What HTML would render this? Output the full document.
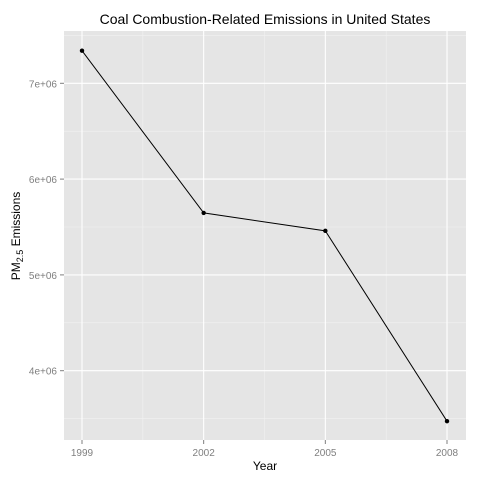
<!DOCTYPE html>
<html><head><meta charset="utf-8"><style>
body{margin:0;background:#fff}
text{font-family:"Liberation Sans",sans-serif}
</style></head><body>
<svg id="chart" width="480" height="480" xmlns="http://www.w3.org/2000/svg">
<rect x="0" y="0" width="480" height="480" fill="#fff"/>
<rect x="64" y="31" width="402" height="409" fill="#e5e5e5"/>
<g id="grid"></g><g id="axes"></g><g id="series"></g>
<text x="265" y="24" font-size="14" text-anchor="middle" fill="#000">Coal Combustion-Related Emissions in United States</text>
<text x="265" y="470" font-size="12" text-anchor="middle" fill="#000">Year</text>
<text transform="translate(20,236) rotate(-90)" font-size="12" text-anchor="middle" fill="#000">PM<tspan font-size="9" dy="3">2.5</tspan><tspan dy="-3"> Emissions</tspan></text>
</svg>
<script>
const years = [1999, 2002, 2005, 2008];
const emissions = [7340000, 5647000, 5460000, 3473000];
const yTicks = [4000000, 5000000, 6000000, 7000000];
const yTickLabels = ["4e+06", "5e+06", "6e+06", "7e+06"];
const yMinor = [3500000, 4500000, 5500000, 6500000, 7500000];
const xTicks = [1999, 2002, 2005, 2008];
const xMinor = [2000.5, 2003.5, 2006.5];
const NS = "http://www.w3.org/2000/svg";
const xs = v => 82 + (v - 1999) * (121.67 / 3);
const ys = v => 83.3 - (v - 7000000) / 1000000 * 95.8;
function mk(tag, attrs, parent) {
  const e = document.createElementNS(NS, tag);
  for (const k in attrs) e.setAttribute(k, attrs[k]);
  document.getElementById(parent).appendChild(e);
  return e;
}
yMinor.forEach(v => {
  const l = mk("line", {x1: 64, x2: 466, y1: ys(v), y2: ys(v), stroke: "#f2f2f2", "stroke-width": 0.6}, "grid");
  
  
});
xMinor.forEach(v => {
  const l = mk("line", {x1: xs(v), x2: xs(v), y1: 31, y2: 440, stroke: "#f2f2f2", "stroke-width": 0.6}, "grid");
  
  
});
yTicks.forEach((v, i) => {
  const l = mk("line", {x1: 64, x2: 466, y1: ys(v), y2: ys(v), stroke: "#fff", "stroke-width": 1.1}, "grid");
  
  
  const t = mk("line", {x1: 60, x2: 64, y1: ys(v), y2: ys(v), stroke: "#7f7f7f", "stroke-width": 1}, "axes");
  
  
  const tx = mk("text", {x: 57, y: ys(v) + 4, "font-size": 10, "text-anchor": "end", fill: "#7f7f7f"}, "axes");
  tx.textContent = yTickLabels[i];
  
  
});
xTicks.forEach(v => {
  const l = mk("line", {x1: xs(v), x2: xs(v), y1: 31, y2: 440, stroke: "#fff", "stroke-width": 1.1}, "grid");
  
  
  const t = mk("line", {x1: xs(v), x2: xs(v), y1: 440, y2: 444, stroke: "#7f7f7f", "stroke-width": 1}, "axes");
  
  
  const tx = mk("text", {x: xs(v), y: 456, "font-size": 10, "text-anchor": "middle", fill: "#7f7f7f"}, "axes");
  tx.textContent = v;
  
  
});
const pts = years.map((y, i) => xs(y) + "," + ys(emissions[i])).join(" ");
const line = mk("polyline", {points: pts, fill: "none", stroke: "#000", "stroke-width": 1}, "series");


years.forEach((y, i) => {
  const c = mk("circle", {cx: xs(y), cy: ys(emissions[i]), r: 2.2, fill: "#000"}, "series");
  
  
});
</script>
</body></html>
